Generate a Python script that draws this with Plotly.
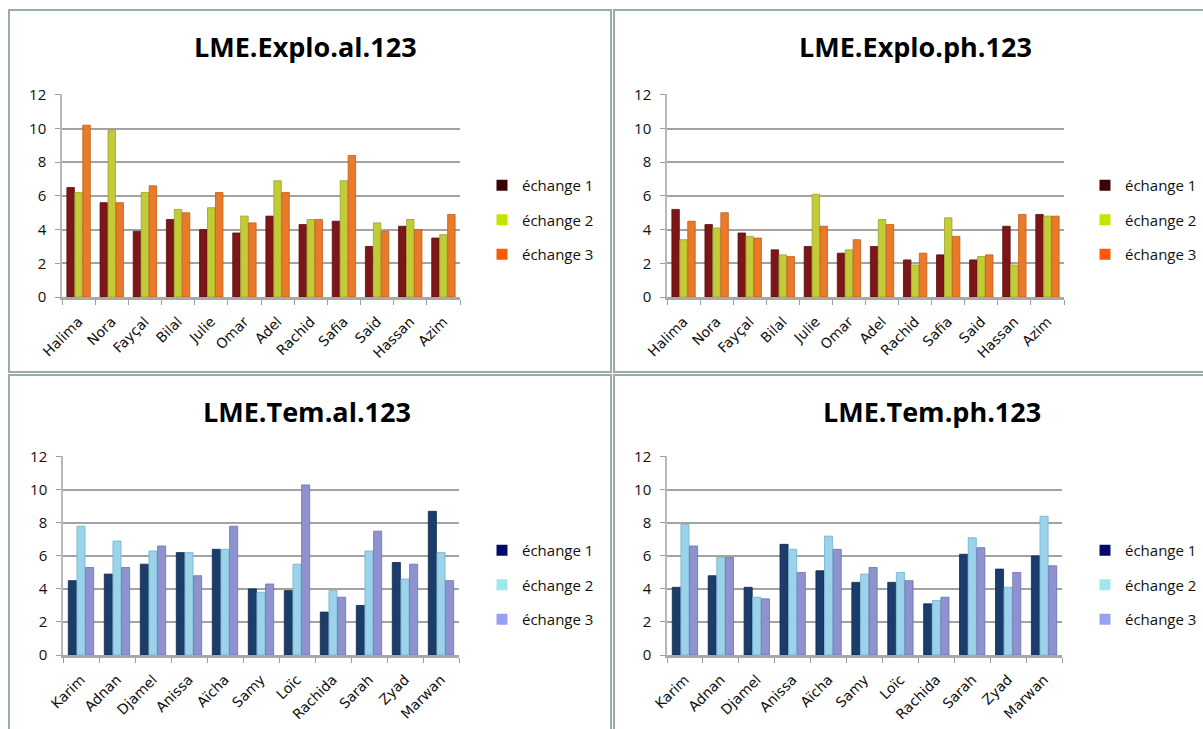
import plotly.graph_objects as go

W, H = 1203, 729

series_names = ["échange 1", "échange 2", "échange 3"]

explo_names = ["Halima", "Nora", "Fayçal", "Bilal", "Julie", "Omar", "Adel",
               "Rachid", "Safia", "Said", "Hassan", "Azim"]
explo_al_e1 = [6.5, 5.6, 3.9, 4.6, 4.0, 3.8, 4.8, 4.3, 4.5, 3.0, 4.2, 3.5]
explo_al_e2 = [6.2, 9.9, 6.2, 5.2, 5.3, 4.8, 6.9, 4.6, 6.9, 4.4, 4.6, 3.7]
explo_al_e3 = [10.2, 5.6, 6.6, 5.0, 6.2, 4.4, 6.2, 4.6, 8.4, 3.9, 4.0, 4.9]

explo_ph_e1 = [5.2, 4.3, 3.8, 2.8, 3.0, 2.6, 3.0, 2.2, 2.5, 2.2, 4.2, 4.9]
explo_ph_e2 = [3.4, 4.1, 3.6, 2.5, 6.1, 2.8, 4.6, 1.9, 4.7, 2.4, 1.9, 4.8]
explo_ph_e3 = [4.5, 5.0, 3.5, 2.4, 4.2, 3.4, 4.3, 2.6, 3.6, 2.5, 4.9, 4.8]

tem_names = ["Karim", "Adnan", "Djamel", "Anissa", "Aïcha", "Samy", "Loïc",
             "Rachida", "Sarah", "Zyad", "Marwan"]
tem_al_e1 = [4.5, 4.9, 5.5, 6.2, 6.4, 4.0, 3.9, 2.6, 3.0, 5.6, 8.7]
tem_al_e2 = [7.8, 6.9, 6.3, 6.2, 6.4, 3.8, 5.5, 3.9, 6.3, 4.6, 6.2]
tem_al_e3 = [5.3, 5.3, 6.6, 4.8, 7.8, 4.3, 10.3, 3.5, 7.5, 5.5, 4.5]

tem_ph_e1 = [4.1, 4.8, 4.1, 6.7, 5.1, 4.4, 4.4, 3.1, 6.1, 5.2, 6.0]
tem_ph_e2 = [7.9, 5.9, 3.5, 6.4, 7.2, 4.9, 5.0, 3.3, 7.1, 4.1, 8.4]
tem_ph_e3 = [6.6, 5.9, 3.4, 5.0, 6.4, 5.3, 4.5, 3.5, 6.5, 5.0, 5.4]

y_ticks = [0, 2, 4, 6, 8, 10, 12]

titles = ["LME.Explo.al.123", "LME.Explo.ph.123", "LME.Tem.al.123", "LME.Tem.ph.123"]

warm = ["#7d1616", "#c3cc36", "#e97a2a"]
warm_line = ["#5a0e0e", "#9aa326", "#c35a18"]
warm_key = ["#3d0303", "#c4e400", "#fc5a02"]
cool = ["#1c3d6c", "#9dd3ea", "#8e93d0"]
cool_line = ["#10284c", "#6fb2cf", "#6a70b4"]
cool_key = ["#040a6c", "#a2e6f0", "#97a1f2"]

panels = [
    dict(cats=explo_names, vals=[explo_al_e1, explo_al_e2, explo_al_e3], colors=warm, lines=warm_line,
         keys=warm_key, xpx=(62, 460), ypx=(297, 94), leg=(482, 169), title=(305, 47)),
    dict(cats=explo_names, vals=[explo_ph_e1, explo_ph_e2, explo_ph_e3], colors=warm, lines=warm_line,
         keys=warm_key, xpx=(667, 1064), ypx=(297, 94), leg=(1085, 169), title=(915, 47)),
    dict(cats=tem_names, vals=[tem_al_e1, tem_al_e2, tem_al_e3], colors=cool, lines=cool_line,
         keys=cool_key, xpx=(63, 459), ypx=(655, 456), leg=(482, 534), title=(307, 411)),
    dict(cats=tem_names, vals=[tem_ph_e1, tem_ph_e2, tem_ph_e3], colors=cool, lines=cool_line,
         keys=cool_key, xpx=(667, 1062), ypx=(655, 456), leg=(1085, 534), title=(932, 411)),
]

fig = go.Figure()
layout = dict(width=W, height=H, margin=dict(l=0, r=0, t=0, b=0, autoexpand=False),
              paper_bgcolor="white", plot_bgcolor="white",
              barmode="group", bargap=0.28, bargroupgap=0.06,
              font=dict(family="Open Sans", color="#111"))
annotations = []
shapes = []

for i, p in enumerate(panels):
    n = i + 1
    xa = "x" if n == 1 else f"x{n}"
    ya = "y" if n == 1 else f"y{n}"
    lg = "legend" if n == 1 else f"legend{n}"
    for s in range(3):
        fig.add_trace(go.Bar(
            x=p["cats"], y=p["vals"][s], name=series_names[s],
            marker=dict(color=p["colors"][s], line=dict(color=p["lines"][s], width=0.8)),
            xaxis=xa, yaxis=ya, showlegend=False,
        ))
    for s in range(3):
        fig.add_trace(go.Scatter(
            x=[None], y=[None], mode="markers", name=series_names[s],
            marker=dict(symbol="square", size=11, color=p["keys"][s]),
            xaxis=xa, yaxis=ya, legend=lg, legendgroup=f"g{n}{s}", hoverinfo="skip",
        ))
    x0, x1 = p["xpx"]
    yb, yt = p["ypx"]
    layout["xaxis" if n == 1 else f"xaxis{n}"] = dict(
        domain=[x0 / W, x1 / W], anchor=ya, type="category", categoryorder="array",
        categoryarray=p["cats"],
        tickangle=-45, tickfont=dict(size=14, family="DejaVu Sans", color="#111"),
        showline=True, linecolor="#a8a8a8", linewidth=3,
        ticks="outside", tickson="boundaries", ticklen=5, tickcolor="#8fa3a3",
        ticklabelstandoff=8,
        showgrid=False, fixedrange=True, automargin=False)
    layout["yaxis" if n == 1 else f"yaxis{n}"] = dict(
        domain=[(H - yb) / H, (H - yt) / H], anchor=xa, range=[0, 12.05],
        tickvals=y_ticks, tickfont=dict(size=15, family="Open Sans", color="#111"),
        showline=True, linecolor="#b8b8b8", linewidth=1.5,
        ticks="outside", ticklen=5, tickcolor="#8fa3a3", ticklabelstandoff=6,
        showgrid=True, gridcolor="#a3a3a3", gridwidth=1.6, zeroline=False,
        fixedrange=True, automargin=False)
    lx, ly = p["leg"]
    layout[lg] = dict(x=lx / W, y=1 - ly / H, xanchor="left", yanchor="top",
                      font=dict(size=15, family="Open Sans", color="#111"),
                      tracegroupgap=12, itemwidth=30, bgcolor="rgba(0,0,0,0)")
    tx, ty = p["title"]
    annotations.append(dict(text=f"<b>{titles[i]}</b>", x=tx / W, y=1 - ty / H,
                            xref="paper", yref="paper", showarrow=False,
                            xanchor="center", yanchor="middle",
                            font=dict(size=27, family="Open Sans", color="#000")))

border = dict(color="#9aaba8", width=2)
boxes = [(9, 10, 611, 372), (614, 10, 1210, 372), (9, 375, 611, 740), (614, 375, 1210, 740)]
for (a, b, c, d) in boxes:
    shapes.append(dict(type="rect", xref="paper", yref="paper",
                       x0=a / W, x1=c / W, y0=1 - d / H, y1=1 - b / H,
                       line=border, fillcolor="rgba(0,0,0,0)", layer="below"))

layout["annotations"] = annotations
layout["shapes"] = shapes
fig.update_layout(**layout)
fig.write_html("out.html")
